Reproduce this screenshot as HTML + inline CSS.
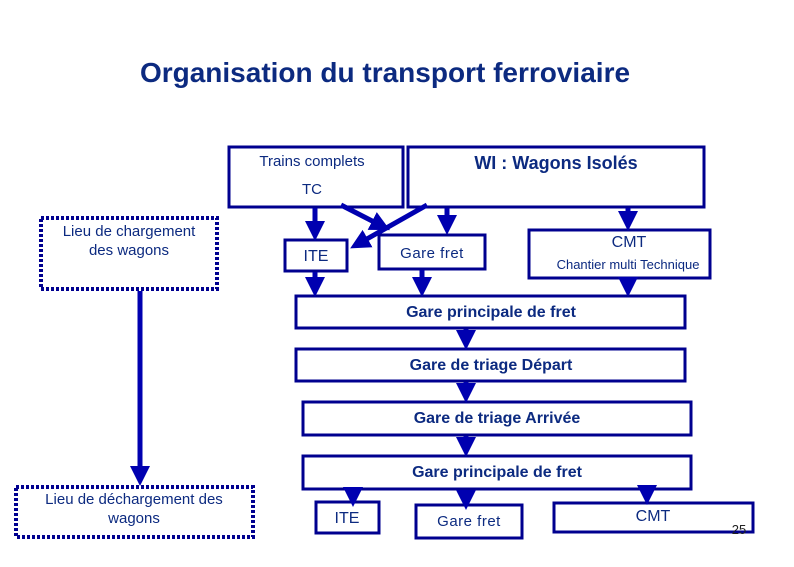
<!DOCTYPE html>
<html><head><meta charset="utf-8"><style>
html,body{margin:0;padding:0;background:#fff;}
svg{display:block;}
text{font-family:"Liberation Sans",sans-serif;fill:#0c2a80;}
</style></head><body>
<svg width="794" height="567" viewBox="0 0 794 567" xmlns="http://www.w3.org/2000/svg">
<defs>
<marker id="ah" markerWidth="4" markerHeight="4" refX="2.2" refY="2" orient="auto" markerUnits="strokeWidth">
<path d="M0,0 L4,2 L0,4 z" fill="#0000b0"/>
</marker>
</defs>
<text x="385" y="82" text-anchor="middle" font-size="28" font-weight="bold">Organisation du transport ferroviaire</text>

<g fill="none" stroke="#00008f" stroke-width="3">
<rect x="229" y="147" width="174" height="60"/>
<rect x="408" y="147" width="296" height="60"/>
<rect x="285" y="240" width="62" height="31"/>
<rect x="379" y="235" width="106" height="34"/>
<rect x="529" y="230" width="181" height="48"/>
<rect x="296" y="296" width="389" height="32"/>
<rect x="296" y="349" width="389" height="32"/>
<rect x="303" y="402" width="388" height="33"/>
<rect x="303" y="456" width="388" height="33"/>
<rect x="316" y="502" width="63" height="31"/>
<rect x="416" y="505" width="106" height="33"/>
<rect x="554" y="503" width="199" height="29"/>
</g>
<g fill="none" stroke="#00008f" stroke-width="4" stroke-dasharray="3,2">
<rect x="41" y="218" width="176" height="71"/>
<rect x="16" y="487" width="237" height="50"/>
</g>

<g stroke="#0000b0" stroke-width="5" fill="none" marker-end="url(#ah)">
<line x1="315" y1="208" x2="315" y2="232"/>
<line x1="341" y1="205" x2="382" y2="226"/>
<line x1="427" y1="205" x2="358" y2="244"/>
<line x1="447" y1="208" x2="447" y2="226"/>
<line x1="628" y1="208" x2="628" y2="222"/>
<line x1="315" y1="272" x2="315" y2="288"/>
<line x1="422" y1="270" x2="422" y2="288"/>
<line x1="628" y1="279" x2="628" y2="288"/>
<line x1="466" y1="329" x2="466" y2="341"/>
<line x1="466" y1="382" x2="466" y2="394"/>
<line x1="466" y1="436" x2="466" y2="448"/>
<line x1="353" y1="490" x2="353" y2="498"/>
<line x1="466" y1="490" x2="466" y2="501"/>
<line x1="647" y1="490" x2="647" y2="496"/>
<line x1="140" y1="291" x2="140" y2="477"/>
</g>

<text x="312" y="166" text-anchor="middle" font-size="15">Trains complets</text>
<text x="312" y="194" text-anchor="middle" font-size="15">TC</text>
<text x="556" y="169" text-anchor="middle" font-size="18" font-weight="bold">WI : Wagons Isolés</text>
<text x="316" y="261" text-anchor="middle" font-size="16">ITE</text>
<text x="432" y="258" text-anchor="middle" font-size="15" letter-spacing="0.5">Gare  fret</text>
<text x="629" y="247" text-anchor="middle" font-size="16">CMT</text>
<text x="628" y="269" text-anchor="middle" font-size="13">Chantier multi Technique</text>
<text x="129" y="236" text-anchor="middle" font-size="15">Lieu de chargement</text>
<text x="129" y="255" text-anchor="middle" font-size="15">des wagons</text>
<text x="134" y="504" text-anchor="middle" font-size="15">Lieu de déchargement des</text>
<text x="134" y="523" text-anchor="middle" font-size="15">wagons</text>
<text x="491" y="317" text-anchor="middle" font-size="16" font-weight="bold">Gare principale de fret</text>
<text x="491" y="370" text-anchor="middle" font-size="16" font-weight="bold">Gare de triage Départ</text>
<text x="497" y="423" text-anchor="middle" font-size="16" font-weight="bold">Gare de triage Arrivée</text>
<text x="497" y="477" text-anchor="middle" font-size="16" font-weight="bold">Gare principale de fret</text>
<text x="347" y="523" text-anchor="middle" font-size="16">ITE</text>
<text x="469" y="526" text-anchor="middle" font-size="15" letter-spacing="0.5">Gare  fret</text>
<text x="653" y="521" text-anchor="middle" font-size="16">CMT</text>
<text x="739" y="534" text-anchor="middle" font-size="13" style="fill:#222">25</text>
</svg>
</body></html>
